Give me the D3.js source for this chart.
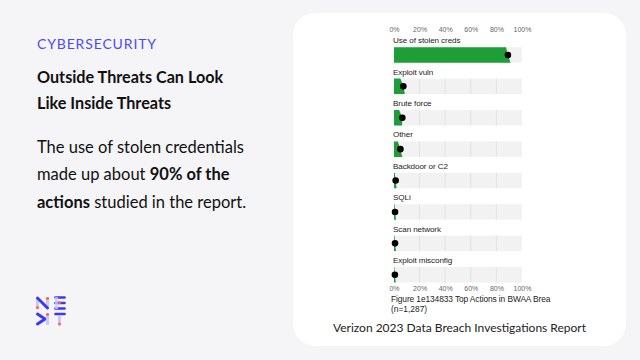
<!DOCTYPE html>
<html><head><meta charset="utf-8">
<script src="https://cdn.jsdelivr.net/npm/d3@7"></script>
<style>
html,body{margin:0;padding:0;background:#f5f5f8;}
svg{display:block;}
</style></head>
<body>
<svg id="c" width="640" height="360"></svg>
<script>
const categories = ["Use of stolen creds","Exploit vuln","Brute force","Other","Backdoor or C2","SQLi","Scan network","Exploit misconfig"];
const pointValues = [89, 7.3, 6.5, 5, 1.3, 0.8, 0.8, 0.7];
const lowerValues = [87.5, 5, 4, 3, 0.6, 0.4, 0.4, 0.3];
const upperValues = [91, 8.5, 6.3, 6.5, 2, 1.6, 1.6, 1.4];
const tickValues = [0, 20, 40, 60, 80, 100];
const tickLabels = ["0%","20%","40%","60%","80%","100%"];

const svg = d3.select("#c");
const FONT = "Lato, 'Open Sans', sans-serif";
const SMALL = "'Liberation Sans', Arial, sans-serif";

// background card
svg.append("rect").attr("x",293).attr("y",13).attr("width",333).attr("height",333)
  .attr("rx",22).attr("fill","#ffffff");

// left text
const L = svg.append("g").attr("font-family",FONT);
L.append("text").attr("x",37).attr("y",49).attr("font-size",14).attr("fill","#4b4cf0")
  .attr("letter-spacing",0.85).text("CYBERSECURITY");
L.append("text").attr("x",37).attr("y",83).attr("font-size",16.2).attr("font-weight",700).attr("fill","#111").text("Outside Threats Can Look");
L.append("text").attr("x",37).attr("y",108.5).attr("font-size",16.2).attr("font-weight",700).attr("fill","#111").text("Like Inside Threats");
L.append("text").attr("x",37).attr("y",153).attr("font-size",16.5).attr("fill","#111").text("The use of stolen credentials");
const t2 = L.append("text").attr("x",37).attr("y",180).attr("font-size",16.5).attr("fill","#111");
t2.append("tspan").text("made up about ");
t2.append("tspan").attr("font-weight",700).text("90% of the");
const t3 = L.append("text").attr("x",37).attr("y",207.5).attr("font-size",16.5).attr("fill","#111");
t3.append("tspan").attr("font-weight",700).text("actions");
t3.append("tspan").text(" studied in the report.");

// logo
const lg = svg.append("g");
const blue = "#3a3af2", lav = "#c9c9f7", org = "#ff6b4a";
lg.append("rect").attr("x",36).attr("y",297).attr("width",3).attr("height",12).attr("fill",lav);
lg.append("rect").attr("x",46).attr("y",297).attr("width",3).attr("height",12).attr("fill",lav);
lg.append("line").attr("x1",37.5).attr("y1",298).attr("x2",47.5).attr("y2",308).attr("stroke",blue).attr("stroke-width",3).attr("stroke-linecap","round");
lg.append("circle").attr("cx",37.5).attr("cy",307.5).attr("r",1.6).attr("fill",org);
lg.append("circle").attr("cx",47.5).attr("cy",298.5).attr("r",1.6).attr("fill",org);
[297.5,303,308.5].forEach(y=>lg.append("line").attr("x1",55.5).attr("x2",64.5).attr("y1",y).attr("y2",y).attr("stroke",blue).attr("stroke-width",2.6).attr("stroke-linecap","round"));
lg.append("rect").attr("x",55).attr("y",297).attr("width",3).attr("height",12).attr("fill",lav).attr("opacity",0.8);
lg.append("circle").attr("cx",59.5).attr("cy",302.5).attr("r",1.6).attr("fill",org);
lg.append("path").attr("d","M37.5,314 L45,319 L37.5,324").attr("fill","none").attr("stroke",blue).attr("stroke-width",3).attr("stroke-linecap","round").attr("stroke-linejoin","round");
lg.append("rect").attr("x",46).attr("y",313).attr("width",3).attr("height",12).attr("fill",lav);
lg.append("circle").attr("cx",47.5).attr("cy",314.5).attr("r",1.6).attr("fill",org);
lg.append("line").attr("x1",55.5).attr("x2",64.5).attr("y1",314).attr("y2",314).attr("stroke",blue).attr("stroke-width",2.6).attr("stroke-linecap","round");
lg.append("rect").attr("x",58).attr("y",315).attr("width",3).attr("height",9).attr("fill",lav);
lg.append("circle").attr("cx",59.5).attr("cy",324).attr("r",1.6).attr("fill",org);

// chart
const x = d3.scaleLinear().domain([0,100]).range([394,522]);
const y = d3.scaleBand().domain(categories).range([37, 37 + 8*31.4]).paddingInner(0).paddingOuter(0);
const barH = 15.5;
const g = svg.append("g");

categories.forEach((c,i)=>{
  const y0 = y(c) + 10.2;
  g.append("rect").attr("x",x(0)).attr("y",y0).attr("width",x(100)-x(0)).attr("height",barH).attr("fill","#f2f2f2");
  tickValues.slice(1,-1).forEach(t=>{
    g.append("line").attr("x1",x(t)).attr("x2",x(t)).attr("y1",y0).attr("y2",y0+barH).attr("stroke","#e2e2e2").attr("stroke-width",1);
  });
  const pts = [[x(0),y0],[x(lowerValues[i]),y0],[x(pointValues[i]),y0+barH/2],[x(upperValues[i]),y0+barH],[x(0),y0+barH]];
  g.append("path").attr("d","M"+pts.map(p=>p.join(",")).join("L")+"Z").attr("fill","#1d9e36");
  g.append("circle").attr("cx",x(pointValues[i])).attr("cy",y0+barH/2).attr("r",3.3).attr("fill","#000");
  g.append("text").attr("x",x(0)-1).attr("y",y0-4).attr("font-family",SMALL).attr("font-size",8.1).attr("letter-spacing",-0.1).attr("fill","#222").text(c);
});

const axT = d3.axisTop(x).tickValues(tickValues).tickFormat((d,i)=>tickLabels[i]).tickSize(0);
const gt = g.append("g").attr("transform","translate(0,35)").call(axT);
const axB = d3.axisBottom(x).tickValues(tickValues).tickFormat((d,i)=>tickLabels[i]).tickSize(0);
const gb = g.append("g").attr("transform","translate(0,283.5)").call(axB);
[gt,gb].forEach(a=>{
  a.select(".domain").remove();
  a.selectAll("text").attr("font-family",SMALL).attr("font-size",7).attr("fill","#666");
});

g.append("text").attr("x",391).attr("y",302).attr("font-family",SMALL).attr("font-size",8.4).attr("letter-spacing",-0.1).attr("fill","#222").text("Figure 1e134833 Top Actions in BWAA Brea");
g.append("text").attr("x",391).attr("y",311.5).attr("font-family",SMALL).attr("font-size",8.4).attr("fill","#222").text("(n=1,287)");

svg.append("text").attr("x",459.5).attr("y",332).attr("text-anchor","middle").attr("font-family",FONT)
  .attr("font-size",12).attr("fill","#222").text("Verizon 2023 Data Breach Investigations Report");
</script>
</body></html>
